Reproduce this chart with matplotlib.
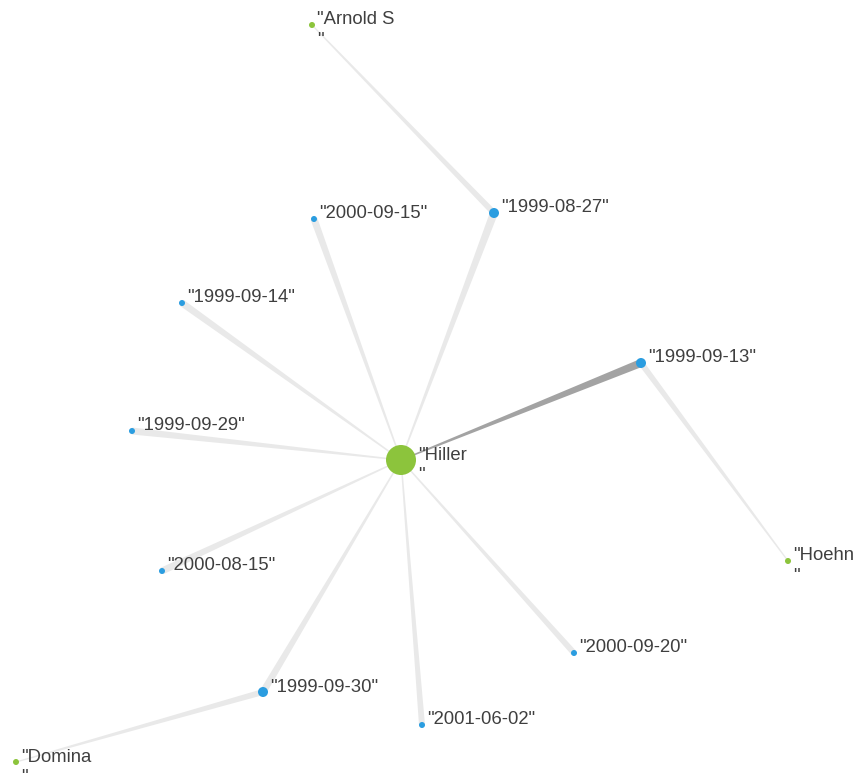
import numpy as np
import matplotlib
matplotlib.use("Agg")
import matplotlib.pyplot as plt
from matplotlib.patches import Polygon, Circle

# ---- data: nodes (layout positions in pixels), kinds, sizes ----
node_names = ['"Hiller\n"', '"1999-09-13"', '"1999-08-27"', '"2000-09-15"',
              '"1999-09-14"', '"1999-09-29"', '"2000-08-15"', '"1999-09-30"',
              '"2001-06-02"', '"2000-09-20"', '"Arnold S\n"', '"Hoehn\n"',
              '"Domina\n"']
node_x = [401, 641, 494, 314, 182, 132, 162, 263, 422, 574, 312, 788, 16]
node_y = [460, 363, 213, 219, 303, 431, 571, 692, 725, 653, 25, 561, 762]
node_kind = ["person", "date", "date", "date", "date", "date", "date", "date",
             "date", "date", "person", "person", "person"]
node_radius = [15, 5, 5, 3, 3, 3, 3, 5, 3, 3, 3, 3, 3]

# edges: (source index, target index, width at target end, strong flag)
edge_src = [0, 0, 0, 0, 0, 0, 0, 0, 0, 10, 11, 12]
edge_dst = [1, 2, 3, 4, 5, 6, 7, 8, 9, 2, 1, 7]
edge_wide = [8, 8, 7, 7, 7, 7, 7, 6, 6, 6, 6, 6]
edge_strong = [1, 0, 0, 0, 0, 0, 0, 0, 0, 0, 0, 0]

kind_color = {"person": "#8cc43c", "date": "#2b9de0"}

W, H = 854, 775
fig = plt.figure(figsize=(W / 100, H / 100), dpi=100)
ax = fig.add_axes([0, 0, 1, 1])
ax.set_xlim(0, W)
ax.set_ylim(H, 0)
ax.axis("off")

for s, d, wide, strong in zip(edge_src, edge_dst, edge_wide, edge_strong):
    p0 = np.array([node_x[s], node_y[s]], float)
    p1 = np.array([node_x[d], node_y[d]], float)
    v = p1 - p0
    n = np.array([-v[1], v[0]]) / np.hypot(*v)
    w0, w1 = 0.6, wide / 2
    pts = [p0 + n * w0, p1 + n * w1, p1 - n * w1, p0 - n * w0]
    color = "#a3a3a3" if strong else "#e9e9e9"
    ax.add_patch(Polygon(pts, closed=True, facecolor=color, edgecolor="none", zorder=1))

text_kw = dict(fontsize=13.3, family="Liberation Sans", color="#3f3f3f",
               ha="left", va="baseline", linespacing=1.3, zorder=4)
texts = []
for name, x, y, k, r in zip(node_names, node_x, node_y, node_kind, node_radius):
    ax.add_patch(Circle((x, y), r, facecolor=kind_color[k], edgecolor="none", zorder=3))
    t = ax.text(x + r + 2.5, y - 0.5, name, **text_kw)
    texts.append((t, name, x + r + 2.5, y - 0.5))

# shift multi-line labels so the FIRST line sits on the node's baseline
fig.canvas.draw()
renderer = fig.canvas.get_renderer()
for t, name, tx, ty in texts:
    if "\n" in name:
        first = name.split("\n")[0]
        probe = ax.text(tx, ty, first, **text_kw)
        h_full = t.get_window_extent(renderer).height
        h_one = probe.get_window_extent(renderer).height
        probe.remove()
        t.set_y(ty + (h_full - h_one))

fig.savefig("out.png", dpi=100, facecolor="white")
